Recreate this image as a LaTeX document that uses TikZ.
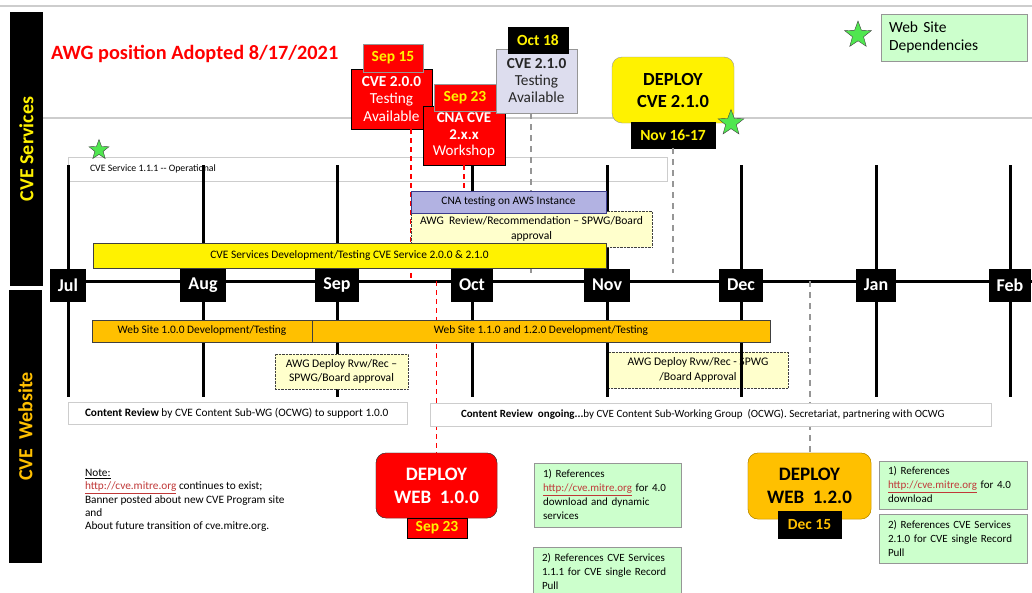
\documentclass[tikz,border=0pt]{standalone}
\usepackage{fontspec}
\setmainfont{Carlito}
\usetikzlibrary{shapes.geometric}
\newcommand\myfs[2]{\fontsize{#1}{#2}\selectfont}
\definecolor{orng}{RGB}{255,192,0}
\definecolor{lyel}{RGB}{255,255,204}
\definecolor{lgrn}{RGB}{204,255,204}
\definecolor{lav}{RGB}{178,178,226}
\definecolor{lavline}{RGB}{60,60,140}
\definecolor{lav2}{RGB}{221,221,238}
\definecolor{urlred}{RGB}{192,56,56}
\definecolor{stargrn}{RGB}{80,230,80}
\definecolor{ltgray}{RGB}{205,205,205}
\definecolor{dkgray}{RGB}{64,64,64}
\definecolor{midgray}{RGB}{150,150,150}
\newcommand\url[1]{\textcolor{urlred}{\underline{#1}}}
\begin{document}
\begin{tikzpicture}[x=1pt,y=-1pt,
  every node/.style={inner sep=0pt, outer sep=0pt},
  bx/.style={draw, align=center},
  bartxt/.style={font=\myfs{11.4}{13}},
  monthline/.style={line width=3pt, black},
  monthbox/.style={fill=black, text=white, font=\bfseries\myfs{18}{20}, minimum height=33pt, inner xsep=8pt},
  grnbox/.style={bx, fill=lgrn, draw=midgray, align=left, font=\myfs{11}{14}},
  awgbox/.style={bx, fill=lyel, draw=dkgray, densely dotted, font=\myfs{11.6}{14.5}},
  tag/.style={font=\bfseries\myfs{15.5}{18}},
  gstar/.style={star, star points=5, star point ratio=2.4, fill=stargrn, draw=dkgray, thin},
  reddash/.style={red, line width=1.5pt, dash pattern=on 5pt off 4pt},
  graydash/.style={midgray, line width=2pt, dash pattern=on 6pt off 5pt},
  whitebox/.style={bx, fill=white, draw=ltgray}
]
\useasboundingbox (0,0) rectangle (1032,592);
\clip (0,0) rectangle (1032,592);
\fill[white] (0,0) rectangle (1032,592);

% top rules
\coordinate (topL) at (0,6);
\coordinate (topR) at (1032,6);
\draw[ltgray, line width=1.5pt] (topL) -- (topR);
\coordinate (midL) at (43,118);
\coordinate (midR) at (1032,118);
\draw[ltgray, line width=1.5pt] (midL) -- (midR);

% side bars
\node[fill=black, rotate=90, minimum width=274pt, minimum height=33pt, text=yellow, font=\bfseries\myfs{20}{24}] (svc) at (26.5,149) {CVE Services};
\node[fill=black, rotate=90, minimum width=273pt, minimum height=33pt, text=orng, font=\bfseries\myfs{20}{24}] (web) at (25.5,426.5) {CVE\ \ Website};

% title and legend
\node[anchor=west, text=red, font=\bfseries\myfs{20.3}{24}] (title) at (51,54) {AWG position Adopted 8/17/2021};
\node[gstar, minimum size=28pt] (lstar) at (858,35) {};
\node[bx, fill=lgrn, draw=midgray, minimum width=146pt, minimum height=47pt, text width=130pt, align=left, font=\myfs{15.5}{18}] (deps) at (954,37.5) {Web Site\\Dependencies};

% CVE Service 1.1.1 box
\node[whitebox, minimum width=599pt, minimum height=24pt] (op) at (367.5,169) {};
\node[anchor=west, font=\myfs{9.8}{11}] (optext) at ([xshift=22pt]op.west) {CVE Service 1.1.1 -{}- Operational};
\node[gstar, minimum size=21pt] (opstar) at (99,150) {};

% AWG deploy box right (under month lines)
\node[awgbox, minimum width=180pt, minimum height=36pt] (awgdep2) at (698,370) {AWG Deploy Rvw/Rec - SPWG\\/Board Approval};

% month grid lines
\coordinate (gridtop) at (0,165);
\coordinate (gridbot) at (0,397);
\foreach \n/\x in {Jul/68,Aug/203,Sep/337,Oct/472,Nov/607,Dec/741,Jan/876,Feb/1010}{
  \coordinate (x\n) at (\x,281);
  \draw[monthline] (x\n |- gridtop) -- (x\n |- gridbot);
}

% timeline
\coordinate (tlL) at (50,281);
\coordinate (tlR) at (1032,281);
\draw[line width=3pt] (tlL) -- (tlR);

% top event boxes
\node[bx, fill=red, draw=black, minimum width=81pt, minimum height=60pt, text=white, font=\myfs{15.3}{17.5}] (cve200) at (391.5,99) {\bfseries CVE 2.0.0\\Testing\\Available};
\node[bx, fill=red, draw=midgray, minimum width=60pt, minimum height=28pt, tag, text=yellow] (sep15) at (393,58) {Sep 15};
\node[bx, fill=red, draw=black, minimum width=82pt, minimum height=59pt, text=white, font=\myfs{15}{16.5}] (cna) at (464,135.5) {\bfseries CNA CVE\\\bfseries 2.x.x\\Workshop};
\node[bx, fill=red, draw=midgray, minimum width=62pt, minimum height=27pt, tag, text=yellow] (sep23) at (465,97.5) {Sep 23};
\node[bx, fill=lav2, draw=midgray, minimum width=81pt, minimum height=64pt, text=black!85, font=\myfs{15.3}{17}] (cve210) at (536.5,81) {\bfseries CVE 2.1.0\\Testing\\Available};
\node[bx, fill=black, minimum width=60pt, minimum height=26pt, tag, text=yellow] (oct18) at (538,40) {Oct 18};
\node[bx, fill=yellow, draw=midgray, rounded corners=10pt, minimum width=122pt, minimum height=66pt, font=\bfseries\myfs{18.5}{22}] (depcve) at (673,90) {DEPLOY\\CVE 2.1.0};
\node[bx, fill=black, minimum width=84pt, minimum height=26pt, tag, text=yellow] (nov) at (673,135) {Nov 16-17};
\node[gstar, minimum size=27pt] (nstar) at (731,123) {};

% bottom deploy boxes
\node[bx, fill=red, draw=dkgray, rounded corners=10pt, minimum width=121pt, minimum height=65pt, text=white, font=\bfseries\myfs{19}{23}] (dw100) at (436.5,485.5) {DEPLOY\\WEB\ \ 1.0.0};
\node[bx, fill=orng, draw=orng!70!black, rounded corners=10pt, minimum width=123pt, minimum height=66pt, font=\bfseries\myfs{19}{23}] (dw120) at (809.5,486) {DEPLOY\\WEB\ \ 1.2.0};

% review boxes
\node[awgbox, minimum width=241pt, minimum height=36pt] (awgrev) at (531.5,229) {AWG\ \ Review/Recommendation -- SPWG/Board\\approval};
\node[bx, fill=lav, draw=lavline, minimum width=195pt, minimum height=22pt, bartxt] (cnatest) at (508.5,202) {CNA testing on AWS Instance};

% dashed connectors
\draw[reddash] (cve200.south -| awgrev.west) -- (awgrev.west |- tlL);
\draw[reddash] (cna.south) -- (cna.south |- cnatest.north);
\draw[reddash] (dw100.north |- tlL) -- (dw100.north);
\coordinate (g1end) at (531,275);
\draw[graydash] ([xshift=-5.5pt]cve210.south) -- (g1end);
\coordinate (g2end) at (673,273);
\draw[graydash] (nov.south) -- (g2end);
\draw[graydash] (dw120.north |- tlL) -- (dw120.north);

% boxes over connectors
\node[awgbox, minimum width=241pt, minimum height=36pt] (awgrev2) at (531.5,229) {AWG\ \ Review/Recommendation -- SPWG/Board\\approval};
\node[bx, fill=lav, draw=lavline, minimum width=195pt, minimum height=22pt, bartxt] (cnatest2) at (508.5,202) {CNA testing on AWS Instance};
\node[bx, fill=yellow, draw=dkgray, minimum width=513pt, minimum height=25pt, bartxt] (devbar) at (349.5,255.5) {CVE Services Development/Testing CVE Service 2.0.0 \& 2.1.0};

% month labels
\foreach \n in {Jul,Aug,Sep,Oct,Nov,Dec,Jan,Feb}{
  \node[monthbox] (m\n) at ([yshift=-4pt]x\n) {\n};
}

% website bars
\node[bx, fill=orng, draw=dkgray, minimum width=220pt, minimum height=22pt, bartxt] (web100) at (202,331) {Web Site 1.0.0 Development/Testing};
\node[bx, fill=orng, draw=dkgray, minimum width=458pt, minimum height=22pt, bartxt] (web120) at (541,331) {Web Site 1.1.0 and 1.2.0 Development/Testing};
\node[awgbox, minimum width=133pt, minimum height=35pt] (awgdep1) at (341.5,371.5) {AWG Deploy Rvw/Rec --\\SPWG/Board approval};

% content review
\node[whitebox, minimum width=339pt, minimum height=22pt] (cr1) at (237.5,413) {};
\node[anchor=west, font=\myfs{11.3}{13}] (cr1t) at ([xshift=17pt]cr1.west) {\textbf{Content Review} by CVE Content Sub-WG (OCWG) to support 1.0.0};
\node[whitebox, minimum width=561pt, minimum height=23pt] (cr2) at (710.5,414.5) {};
\node[anchor=west, font=\myfs{11}{13}] (cr2t) at ([xshift=31pt]cr2.west) {\textbf{Content Review\ \ ongoing...}by CVE Content Sub-Working Group\ \ (OCWG). Secretariat, partnering with OCWG};

% deploy boxes to front
\node[bx, fill=red, draw=dkgray, rounded corners=10pt, minimum width=121pt, minimum height=65pt, text=white, font=\bfseries\myfs{19}{23}] (dw100b) at (436.5,485.5) {DEPLOY\\WEB\ \ 1.0.0};
\node[bx, fill=red, minimum width=60pt, minimum height=20pt, tag, text=yellow] (sep23b) at (437,528) {Sep 23};
\node[bx, fill=orng, draw=orng!70!black, rounded corners=10pt, minimum width=123pt, minimum height=66pt, font=\bfseries\myfs{19}{23}] (dw120b) at (809.5,486) {DEPLOY\\WEB\ \ 1.2.0};
\node[bx, fill=black, minimum width=63pt, minimum height=27pt, tag, text=orng] (dec15) at (809.5,524.5) {Dec 15};

% note
\node[anchor=north west, align=left, font=\myfs{11.3}{13.4}] (note) at (85,469) {\underline{Note:}\\\url{http://cve.mitre.org} continues to exist;\\Banner posted about new CVE Program site\\and\\About future transition of cve.mitre.org.};

% green boxes
\node[grnbox, minimum width=147pt, minimum height=64pt, text width=129pt] (g1) at (607.5,495) {1) References\\\url{http://cve.mitre.org} for 4.0\\download and dynamic\\services};
\node[grnbox, minimum width=148pt, minimum height=50pt, text width=130pt] (g2) at (607,572) {2) References CVE Services\\1.1.1 for CVE single Record\\Pull};
\node[grnbox, minimum width=148pt, minimum height=48pt, text width=130pt] (g3) at (953,485) {1) References\\\url{http://cve.mitre.org} for 4.0\\download};
\node[grnbox, minimum width=148pt, minimum height=49pt, text width=130pt] (g4) at (953,538.5) {2) References CVE Services\\2.1.0 for CVE single Record\\Pull};
\end{tikzpicture}
\end{document}
